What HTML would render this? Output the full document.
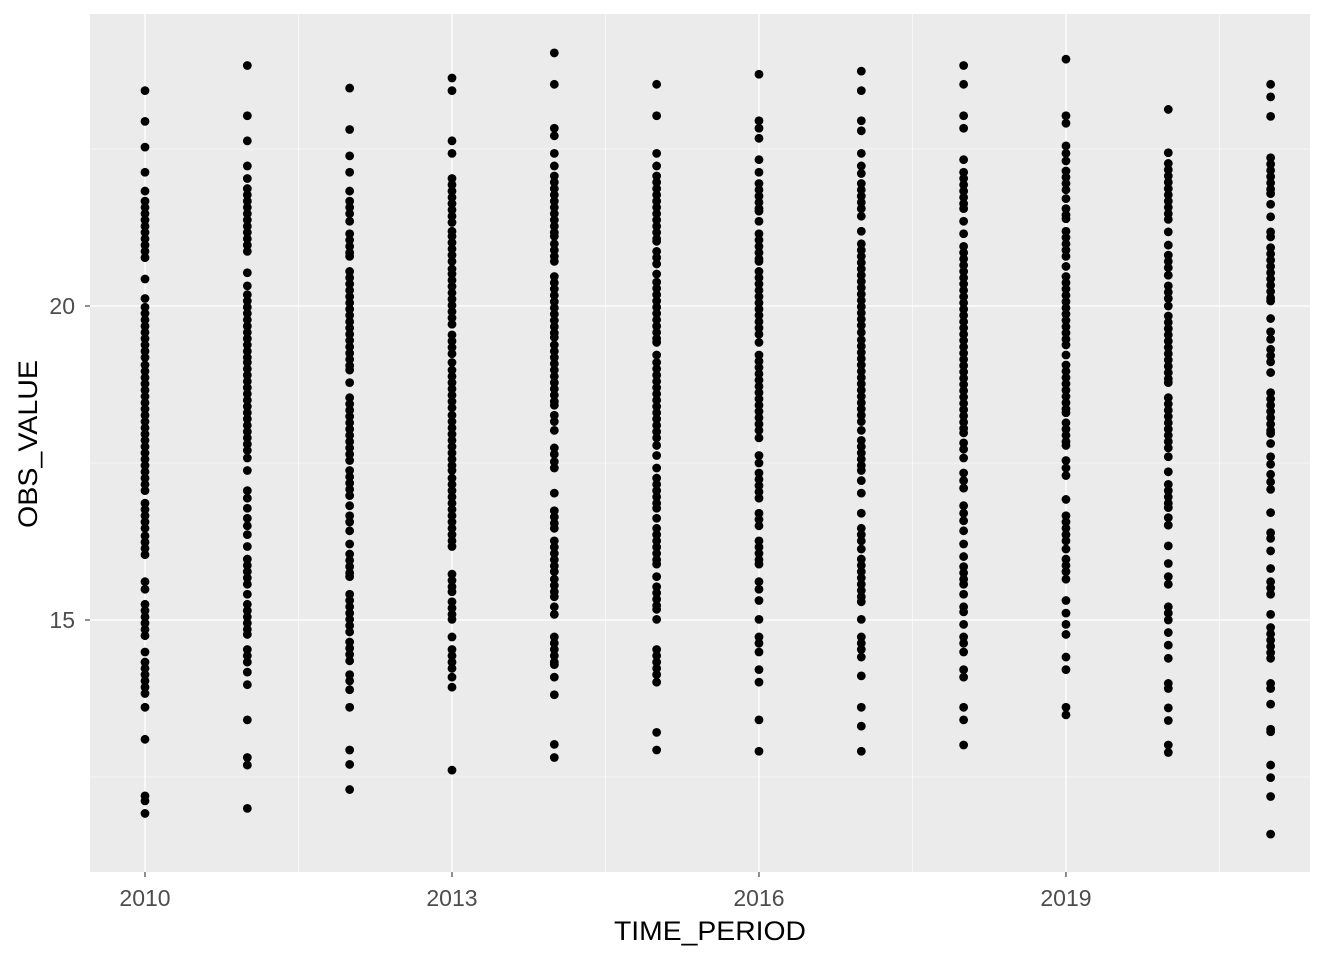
<!DOCTYPE html>
<html><head><meta charset="utf-8"><style>
html,body{margin:0;padding:0;background:#fff;}
svg{display:block;font-family:"Liberation Sans",Arial,sans-serif;}
</style></head><body>
<svg id="chart" width="1344" height="960" viewBox="0 0 1344 960" xmlns="http://www.w3.org/2000/svg">
<rect x="0" y="0" width="1344" height="960" fill="#fff"/>
<rect x="90" y="14" width="1220" height="858" fill="#EBEBEB"/>
<g id="grid"></g>
<g id="points"></g>
<g id="axes"></g>
<text x="710" y="940" text-anchor="middle" font-size="27" textLength="192" lengthAdjust="spacingAndGlyphs" fill="#000">TIME_PERIOD</text>
<text x="0" y="0" transform="translate(37,444) rotate(-90)" text-anchor="middle" font-size="27" textLength="168" lengthAdjust="spacingAndGlyphs" fill="#000">OBS_VALUE</text>
</svg>
<script>
const years = [2010,2011,2012,2013,2014,2015,2016,2017,2018,2019,2020,2021];
const v2010 = [23.43,22.94,22.53,22.13,21.83,21.67,21.57,21.47,21.37,21.27,21.17,21.07,20.97,20.87,20.77,20.43,20.12,19.98,19.88,19.78,19.68,19.58,19.48,19.38,19.28,19.18,19.06,18.96,18.86,18.76,18.66,18.56,18.46,18.36,18.26,18.16,18.06,17.96,17.86,17.76,17.66,17.56,17.46,17.36,17.26,17.16,17.06,16.86,16.76,16.66,16.56,16.46,16.34,16.24,16.14,16.04,15.61,15.49,15.25,15.15,15.05,14.95,14.85,14.75,14.49,14.33,14.23,14.13,14.03,13.93,13.83,13.61,13.10,12.2,12.12,11.92];
const v2011 = [23.83,23.03,22.63,22.23,22.03,21.87,21.77,21.67,21.57,21.47,21.37,21.27,21.17,21.07,20.97,20.87,20.53,20.32,20.18,20.08,19.98,19.88,19.78,19.68,19.58,19.48,19.38,19.28,19.18,19.1,19.0,18.9,18.8,18.7,18.6,18.5,18.4,18.3,18.2,18.1,18.0,17.9,17.8,17.7,17.58,17.38,17.06,16.94,16.78,16.62,16.5,16.36,16.17,15.97,15.87,15.77,15.67,15.57,15.41,15.25,15.15,15.05,14.95,14.85,14.77,14.53,14.43,14.33,14.17,13.97,13.41,12.81,12.69,12.0];
const v2012 = [23.47,22.81,22.39,22.13,21.83,21.67,21.57,21.47,21.35,21.15,21.05,20.95,20.85,20.79,20.55,20.45,20.35,20.25,20.15,20.05,19.95,19.85,19.75,19.65,19.55,19.45,19.35,19.25,19.15,19.05,18.98,18.78,18.54,18.44,18.34,18.24,18.14,18.04,17.94,17.84,17.74,17.64,17.54,17.38,17.28,17.18,17.08,16.98,16.82,16.66,16.56,16.42,16.21,16.05,15.95,15.85,15.75,15.69,15.41,15.31,15.21,15.11,15.01,14.91,14.81,14.65,14.55,14.45,14.35,14.13,14.03,13.89,13.61,12.93,12.7,12.3];
const v2013 = [23.63,23.43,22.63,22.43,22.03,21.93,21.83,21.73,21.63,21.53,21.43,21.33,21.19,21.11,21.01,20.91,20.81,20.71,20.59,20.51,20.41,20.31,20.21,20.11,20.01,19.91,19.81,19.71,19.54,19.44,19.34,19.24,19.1,18.98,18.88,18.78,18.68,18.58,18.48,18.38,18.26,18.16,18.06,17.96,17.86,17.76,17.66,17.56,17.46,17.38,17.26,17.16,17.06,16.96,16.86,16.76,16.66,16.56,16.46,16.36,16.26,16.17,15.73,15.63,15.53,15.45,15.29,15.19,15.09,15.01,14.73,14.53,14.43,14.33,14.23,14.09,13.93,12.61];
const v2014 = [24.03,23.53,22.83,22.71,22.43,22.23,22.07,21.97,21.87,21.77,21.67,21.57,21.47,21.37,21.27,21.17,21.11,20.99,20.89,20.79,20.71,20.47,20.37,20.27,20.17,20.07,19.97,19.87,19.77,19.67,19.57,19.5,19.38,19.28,19.18,19.08,18.98,18.88,18.78,18.68,18.58,18.48,18.42,18.26,18.16,18.02,17.74,17.64,17.52,17.42,17.02,16.74,16.64,16.54,16.46,16.26,16.16,16.06,15.96,15.86,15.77,15.65,15.55,15.45,15.37,15.21,15.09,14.73,14.63,14.53,14.43,14.33,14.29,14.09,13.81,13.02,12.81];
const v2015 = [23.53,23.03,22.43,22.23,22.07,21.97,21.87,21.77,21.67,21.57,21.47,21.37,21.27,21.17,21.07,21.03,20.87,20.77,20.67,20.51,20.38,20.28,20.18,20.08,19.98,19.88,19.78,19.68,19.58,19.48,19.42,19.22,19.1,19.0,18.9,18.8,18.7,18.6,18.5,18.4,18.3,18.2,18.1,18.0,17.9,17.78,17.62,17.42,17.26,17.16,17.06,16.96,16.86,16.78,16.62,16.46,16.36,16.26,16.16,16.06,15.96,15.89,15.69,15.53,15.43,15.33,15.23,15.17,15.01,14.53,14.43,14.33,14.23,14.13,14.01,13.21,12.93];
const v2016 = [23.69,22.95,22.83,22.67,22.33,22.13,21.95,21.85,21.75,21.65,21.55,21.51,21.35,21.15,21.05,20.95,20.85,20.75,20.71,20.55,20.45,20.35,20.25,20.15,20.05,19.95,19.85,19.75,19.65,19.55,19.42,19.22,19.12,19.02,18.92,18.82,18.72,18.62,18.52,18.42,18.32,18.22,18.12,18.02,17.9,17.62,17.5,17.34,17.24,17.14,17.04,16.94,16.7,16.6,16.5,16.26,16.16,16.06,15.96,15.89,15.61,15.49,15.31,15.01,14.73,14.63,14.49,14.21,14.01,13.41,12.91];
const v2017 = [23.74,23.43,22.95,22.79,22.43,22.23,22.11,21.95,21.85,21.75,21.65,21.55,21.43,21.19,20.99,20.89,20.79,20.69,20.59,20.49,20.39,20.29,20.19,20.09,19.99,19.89,19.79,19.69,19.58,19.46,19.36,19.26,19.16,19.06,18.96,18.86,18.76,18.66,18.56,18.46,18.36,18.26,18.16,18.02,17.86,17.76,17.66,17.56,17.46,17.38,17.22,17.02,16.7,16.46,16.36,16.26,16.13,15.97,15.87,15.77,15.67,15.57,15.47,15.37,15.29,15.01,14.73,14.63,14.53,14.41,14.11,13.61,13.31,12.91];
const v2018 = [23.83,23.53,23.03,22.83,22.33,22.13,22.03,21.93,21.83,21.73,21.63,21.55,21.35,21.15,20.95,20.85,20.75,20.65,20.55,20.45,20.35,20.25,20.15,20.05,19.95,19.85,19.75,19.65,19.55,19.45,19.35,19.25,19.15,19.05,18.95,18.85,18.75,18.65,18.55,18.45,18.35,18.25,18.15,18.05,17.98,17.82,17.72,17.58,17.34,17.22,17.1,16.82,16.7,16.58,16.42,16.21,16.01,15.85,15.75,15.65,15.57,15.41,15.21,15.13,14.93,14.73,14.63,14.49,14.21,14.09,13.61,13.41,13.01];
const v2019 = [23.93,23.03,22.91,22.55,22.43,22.31,22.15,22.05,21.95,21.85,21.71,21.55,21.45,21.39,21.19,21.09,20.99,20.89,20.79,20.63,20.47,20.37,20.27,20.17,20.07,19.97,19.87,19.77,19.67,19.57,19.47,19.38,19.22,19.06,18.96,18.86,18.76,18.66,18.56,18.46,18.36,18.3,18.14,18.04,17.94,17.84,17.78,17.54,17.42,17.3,16.92,16.66,16.56,16.46,16.36,16.26,16.13,15.97,15.87,15.77,15.65,15.31,15.11,14.93,14.77,14.41,14.21,13.61,13.49];
const v2020 = [23.13,22.44,22.27,22.17,22.07,21.97,21.87,21.77,21.67,21.57,21.47,21.38,21.18,20.97,20.81,20.71,20.61,20.49,20.32,20.22,20.12,20.0,19.84,19.74,19.64,19.54,19.44,19.34,19.24,19.14,19.04,18.94,18.84,18.78,18.54,18.44,18.34,18.24,18.14,18.04,17.94,17.84,17.74,17.6,17.36,17.16,17.06,16.96,16.86,16.79,16.63,16.51,16.18,15.9,15.69,15.57,15.21,15.11,15.0,14.8,14.6,14.39,13.99,13.91,13.6,13.4,13.01,12.89];
const v2021 = [23.53,23.33,23.02,22.36,22.26,22.16,22.06,21.96,21.86,21.79,21.62,21.42,21.18,21.1,20.93,20.83,20.73,20.63,20.53,20.43,20.33,20.23,20.13,20.08,19.8,19.59,19.47,19.31,19.21,19.11,18.94,18.62,18.52,18.42,18.32,18.22,18.12,18.02,17.97,17.81,17.6,17.48,17.32,17.2,17.08,16.71,16.39,16.3,16.1,15.82,15.61,15.51,15.41,15.09,14.88,14.78,14.68,14.58,14.48,14.39,13.99,13.91,13.66,13.26,13.22,12.69,12.49,12.19,11.59];
const series = [v2010,v2011,v2012,v2013,v2014,v2015,v2016,v2017,v2018,v2019,v2020,v2021];
const xTicks = [2010,2013,2016,2019];
const xMinor = [2011.5,2014.5,2017.5,2020.5];
const yTicks = [15,20];
const yMinor = [12.5,17.5,22.5];

const NS = "http://www.w3.org/2000/svg";
const px0 = 90, px1 = 1310, py0 = 14, py1 = 872;
function xs(v){ return 145 + (v - 2010) * 102.33; }
function ys(v){ return 306 - (v - 20) * 62.8; }
function mk(tag, attrs, parent){ const e = document.createElementNS(NS, tag); for (const k in attrs) e.setAttribute(k, attrs[k]); parent.appendChild(e); return e; }

const grid = document.getElementById('grid');
yMinor.forEach(v => {
  const l = mk('line', {x1:px0, x2:px1, y1:ys(v), y2:ys(v), stroke:'#fff', 'stroke-width':0.6}, grid);
  
  
});
xMinor.forEach(v => {
  const l = mk('line', {x1:xs(v), x2:xs(v), y1:py0, y2:py1, stroke:'#fff', 'stroke-width':0.6}, grid);
  
  
});
yTicks.forEach(v => {
  const l = mk('line', {x1:px0, x2:px1, y1:ys(v), y2:ys(v), stroke:'#fff', 'stroke-width':1.3}, grid);
  
  
});
xTicks.forEach(v => {
  const l = mk('line', {x1:xs(v), x2:xs(v), y1:py0, y2:py1, stroke:'#fff', 'stroke-width':1.3}, grid);
  
  
});

const pts = document.getElementById('points');
series.forEach((vals, i) => {
  vals.forEach(v => {
    const c = mk('circle', {cx:xs(years[i]), cy:ys(v), r:4.4, fill:'#000'}, pts);
    
    
  });
});

const axes = document.getElementById('axes');
xTicks.forEach(v => {
  const t = mk('line', {x1:xs(v), x2:xs(v), y1:py1, y2:py1+5, stroke:'#333', 'stroke-width':1.1}, axes);
  
  
  const tx = mk('text', {x:xs(v), y:906, 'text-anchor':'middle', 'font-size':23, fill:'#4D4D4D'}, axes);
  tx.textContent = String(v);
  
  
});
yTicks.forEach(v => {
  const t = mk('line', {x1:px0-5, x2:px0, y1:ys(v), y2:ys(v), stroke:'#333', 'stroke-width':1.1}, axes);
  
  
  const tx = mk('text', {x:px0-15, y:ys(v)+8, 'text-anchor':'end', 'font-size':23, fill:'#4D4D4D'}, axes);
  tx.textContent = String(v);
  
  
});
</script>
</body></html>
